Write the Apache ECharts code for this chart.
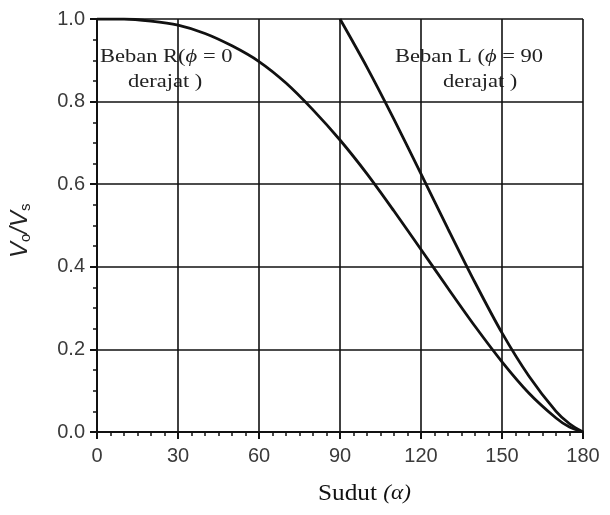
<!DOCTYPE html>
<html><head><meta charset="utf-8">
<script src="https://cdn.jsdelivr.net/npm/echarts@6/dist/echarts.min.js"></script>
<style>html,body{margin:0;padding:0;background:#fff}#c{width:610px;height:515px}</style>
</head><body><div id="c"></div>
<script>
// Angle alpha (degrees) and Vo/Vs
const angleR = [0,10,20,30,40,50,60,70,80,90,100,110,120,130,140,150,160,170,175,180];
const valR   = [1.0,1.0,0.995,0.985,0.965,0.935,0.897,0.845,0.78,0.707,0.625,0.535,0.442,0.348,0.256,0.17,0.094,0.034,0.012,0.0];
const angleL = [90,100,110,120,130,140,150,160,170,175,180];
const valL   = [1.0,0.883,0.757,0.625,0.492,0.362,0.24,0.135,0.05,0.02,0.0];
const xTicks = [0,30,60,90,120,150,180];
const yTicks = [0.0,0.2,0.4,0.6,0.8,1.0];
const labelR = ['Beban R(', '\u03d5', ' = 0', 'derajat )'];
const labelL = ['Beban L (', '\u03d5', ' = 90', 'derajat )'];
const xName = ['Sudut ', '(\u03b1)'];

const chart = echarts.init(document.getElementById('c'), null, {renderer:'canvas'});
const serif = '"Liberation Serif", "DejaVu Serif", serif';
const sans = '"Liberation Sans", Arial, sans-serif';
const richSerif = {
  n:{fontFamily:serif, fontSize:18, fill:'#222'},
  i:{fontFamily:serif, fontStyle:'italic', fontSize:18, fill:'#222'}
};
chart.setOption({
  animation:false,
  grid:{left:97, right:27, top:19, bottom:83, show:false},
  xAxis:{type:'value', min:0, max:180, interval:30,
    axisLine:{show:true, onZero:false, lineStyle:{color:'#111', width:2}},
    axisTick:{show:true, length:7, lineStyle:{color:'#111', width:2}},
    minorTick:{show:true, splitNumber:6, length:4, lineStyle:{color:'#111', width:1.5}},
    axisLabel:{fontFamily:sans, fontSize:20, color:'#3a3a3a', margin:14,
      formatter:v=>xTicks.includes(v)?String(v):''},
    splitLine:{show:true, lineStyle:{color:'#111', width:1.6}}
  },
  yAxis:{type:'value', min:0, max:1, interval:0.2,
    axisLine:{show:true, onZero:false, lineStyle:{color:'#111', width:2}},
    axisTick:{show:true, length:7, lineStyle:{color:'#111', width:2}},
    minorTick:{show:true, splitNumber:4, length:4, lineStyle:{color:'#111', width:1.5}},
    axisLabel:{fontFamily:sans, fontSize:20, color:'#3a3a3a', margin:12,
      formatter:v=>{const t=yTicks.find(a=>Math.abs(a-v)<1e-9);return t===undefined?'':t.toFixed(1);}},
    splitLine:{show:true, lineStyle:{color:'#111', width:1.6}}
  },
  series:[
    {type:'line', data:angleR.map((a,i)=>[a,valR[i]]), smooth:0.3, symbol:'none',
      lineStyle:{color:'#111', width:2.8}, z:5},
    {type:'line', data:angleL.map((a,i)=>[a,valL[i]]), smooth:0.3, symbol:'none',
      lineStyle:{color:'#111', width:2.8}, z:5}
  ],
  graphic:[
    {type:'text', x:100, y:48, scaleX:1.25,
      style:{text:'{n|'+labelR[0]+'}{i|'+labelR[1]+'}{n|'+labelR[2]+'}', rich:richSerif}},
    {type:'text', x:128, y:73, scaleX:1.25,
      style:{text:'{n|'+labelR[3]+'}', rich:richSerif}},
    {type:'text', x:395, y:48, scaleX:1.25,
      style:{text:'{n|'+labelL[0]+'}{i|'+labelL[1]+'}{n|'+labelL[2]+'}', rich:richSerif}},
    {type:'text', x:443, y:73, scaleX:1.25,
      style:{text:'{n|'+labelL[3]+'}', rich:richSerif}},
    {type:'text', x:318, y:482, scaleX:1.1,
      style:{text:'{n|'+xName[0]+'}{i|'+xName[1]+'}', rich:{
        n:{fontFamily:serif, fontSize:23, fill:'#111'},
        i:{fontFamily:serif, fontStyle:'italic', fontSize:21, fill:'#111'}}}},
    {type:'text', x:8, y:258, rotation:Math.PI/2,
      style:{text:'{v|V}{s|o}{v|/V}{s|s}', rich:{
        v:{fontFamily:sans, fontStyle:'italic', fontSize:24, fill:'#222'},
        s:{fontFamily:sans, fontSize:15, fill:'#222', padding:[10,0,0,0]}}}}
  ]
});
</script></body></html>
